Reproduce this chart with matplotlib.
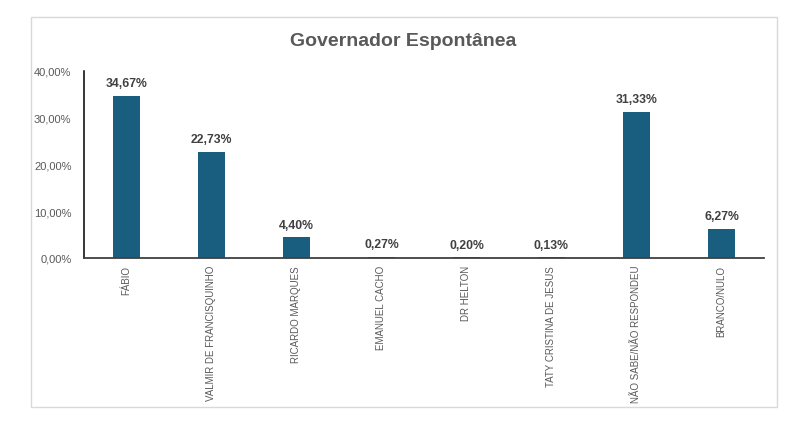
import matplotlib
matplotlib.use("Agg")
import matplotlib.pyplot as plt
from matplotlib.patches import Rectangle
from matplotlib.ticker import FuncFormatter

categories = [
    "FÁBIO",
    "VALMIR DE FRANCISQUINHO",
    "RICARDO MARQUES",
    "EMANUEL CACHO",
    "DR HELTON",
    "TATY CRISTINA DE JESUS",
    "NÃO SABE/NÃO RESPONDEU",
    "BRANCO/NULO",
]
values = [34.67, 22.73, 4.40, 0.27, 0.20, 0.13, 31.33, 6.27]
yticks = [0, 10, 20, 30, 40]

plt.rcParams["font.family"] = ["Liberation Sans Narrow", "Liberation Sans", "DejaVu Sans"]

W, H = 803, 435
fig = plt.figure(figsize=(W / 100, H / 100), dpi=100)

# chart frame
fig.patches.append(Rectangle((31 / W, 1 - 408 / H), (777 - 31) / W, (408 - 18) / H,
                             transform=fig.transFigure, fill=False,
                             edgecolor="#d9d9d9", linewidth=1))

ax = fig.add_axes([84 / W, 1 - 259 / H, (764 - 84) / W, (259 - 72) / H])
x = list(range(len(categories)))
ax.bar(x, values, width=0.32, color="#1a5e7f")

for xi, v in zip(x, values):
    ax.text(xi, v + 1.4, f"{v:.2f}%".replace(".", ","), ha="center", va="bottom",
            fontsize=8.8, fontweight="bold", color="#404040")

ax.set_xlim(-0.5, len(categories) - 0.5)
ax.set_ylim(0, 40)
ax.set_yticks(yticks)
ax.yaxis.set_major_formatter(FuncFormatter(lambda v, p: f"{v:.2f}%".replace(".", ",")))
ax.set_xticks(x)
ax.set_xticklabels(categories, rotation=90, va="top", ha="center")

ax.tick_params(axis="y", length=0, labelsize=8, labelcolor="#595959", pad=9)
ax.tick_params(axis="x", length=0, labelsize=7, labelcolor="#595959", pad=5)

for side in ["top", "right"]:
    ax.spines[side].set_visible(False)
ax.spines["left"].set_color("#000000")
ax.spines["left"].set_linewidth(1.1)
ax.spines["bottom"].set_color("#404040")
ax.spines["bottom"].set_linewidth(1.3)

fig.text(403 / W, 1 - 42 / H, "Governador Espontânea", ha="center", va="center",
         fontsize=14, fontweight="bold", color="#595959")

fig.savefig("out.png", dpi=100)
